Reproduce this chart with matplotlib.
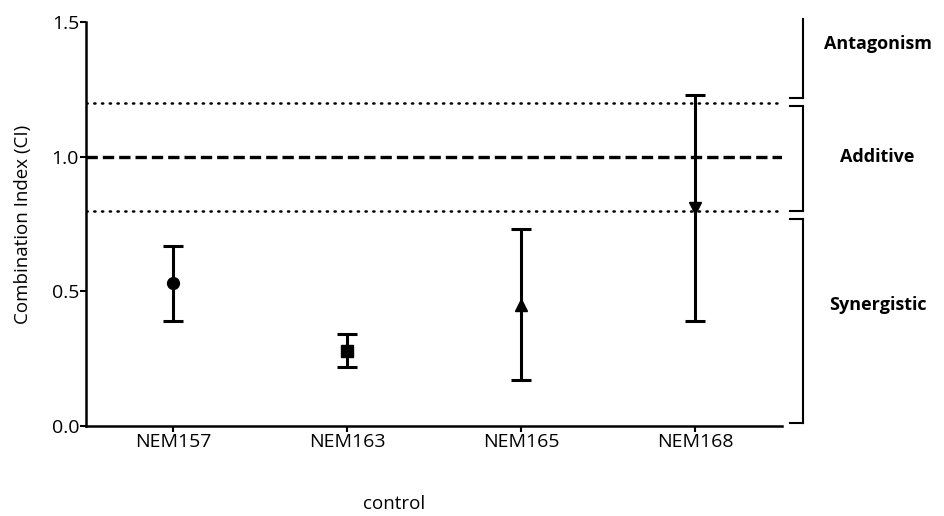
import matplotlib
matplotlib.use("Agg")
import matplotlib.pyplot as plt

# Combination index per cell line (mean and error half-width)
cell_lines = ["NEM157", "NEM163", "NEM165", "NEM168"]
ci_mean = [0.53, 0.28, 0.45, 0.81]
ci_err = [0.14, 0.06, 0.28, 0.42]
markers = ["o", "s", "^", "v"]

# Interpretation thresholds
additive_line = 1.0
additive_low = 0.8
additive_high = 1.2

# Bracket ranges (CI) for the interpretation labels
regions = ["Antagonism", "Additive", "Synergistic"]
region_spans = [(1.22, 1.51), (0.80, 1.19), (0.01, 0.77)]
region_label_y = [1.42, 1.0, 0.45]

plt.rcParams["font.family"] = ["Open Sans", "DejaVu Sans"]

fig = plt.figure(figsize=(9.45, 5.16), dpi=100)
ax = fig.add_axes([0.091, 0.1744, 0.7365, 0.7826])

x = list(range(len(cell_lines)))
for xi, m, e, mk in zip(x, ci_mean, ci_err, markers):
    ax.errorbar(xi, m, yerr=e, fmt=mk, color="black", ecolor="black",
                elinewidth=2.2, capsize=7, capthick=2.2, markersize=8.5,
                zorder=3)

ax.axhline(additive_line, color="black", linestyle=(0, (3.4, 1.5)), linewidth=2.4, zorder=1)
ax.axhline(additive_low, color="black", linestyle=(0, (0.5, 2.6)), linewidth=1.8,
           dash_capstyle="round", zorder=1)
ax.axhline(additive_high, color="black", linestyle=(0, (0.5, 2.6)), linewidth=1.8,
           dash_capstyle="round", zorder=1)

ax.set_xlim(-0.5, 3.5)
ax.set_ylim(0, 1.5)
ax.set_xticks(x)
ax.set_xticklabels(cell_lines)
ax.set_yticks([0.0, 0.5, 1.0, 1.5])
ax.set_yticklabels(["0.0", "0.5", "1.0", "1.5"])
ax.tick_params(axis="both", labelsize=14, width=1.5, length=4, direction="out", pad=1)

for side in ("top", "right"):
    ax.spines[side].set_visible(False)
for side in ("left", "bottom"):
    ax.spines[side].set_linewidth(1.8)

ax.set_ylabel("Combination Index (CI)", fontsize=13.5)
ax.yaxis.set_label_coords(-0.078, 0.5)
ax.set_xlabel("control", fontsize=13.5)
ax.xaxis.set_label_coords(0.443, -0.17)

# Interpretation brackets to the right of the plot area
bx = 3.62
tick_x = 3.545
for (lo, hi), name, ly in zip(region_spans, regions, region_label_y):
    ax.plot([bx, bx], [lo, hi], color="black", linewidth=1.5, clip_on=False)
    ax.plot([tick_x, bx], [lo, lo], color="black", linewidth=1.5, clip_on=False)
    if name != "Antagonism":
        ax.plot([tick_x, bx], [hi, hi], color="black", linewidth=1.5, clip_on=False)
    ax.text(4.05, ly, name, ha="center", va="center", fontsize=13,
            fontweight="bold", clip_on=False)

fig.savefig("out.png", dpi=100)
